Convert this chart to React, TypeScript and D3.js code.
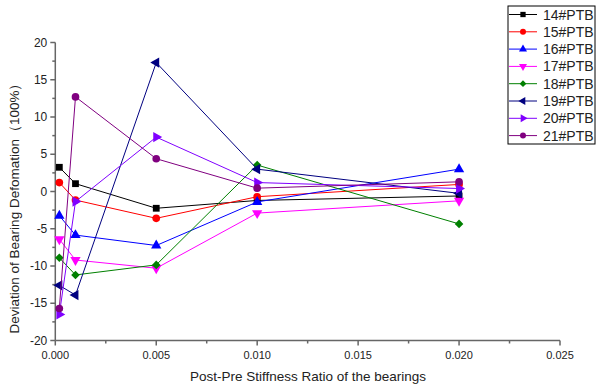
import React from "react";
import * as d3 from "d3";

// stiffness ratios on the x axis
const ratios = [0.0002, 0.001, 0.005, 0.01, 0.02];

const seriesNames = [
  "14#PTB",
  "15#PTB",
  "16#PTB",
  "17#PTB",
  "18#PTB",
  "19#PTB",
  "20#PTB",
  "21#PTB",
];

const s14 = [3.25, 1.05, -2.25, -1.2, -0.6];
const s15 = [1.2, -1.15, -3.6, -0.7, 0.95];
const s16 = [-3.25, -5.85, -7.25, -1.4, 3.0];
const s17 = [-6.4, -9.2, -10.3, -2.9, -1.25];
const s18 = [-8.9, -11.2, -9.85, 3.55, -4.35];
const s19 = [-12.6, -13.9, 17.3, 3.0, -0.25];
const s20 = [-16.5, -1.35, 7.3, 1.2, 0.4];
const s21 = [-15.7, 12.7, 4.4, 0.45, 1.3];
const seriesValues = [s14, s15, s16, s17, s18, s19, s20, s21];

const xTicks = [0, 0.005, 0.01, 0.015, 0.02, 0.025];
const yTicks = [-20, -15, -10, -5, 0, 5, 10, 15, 20];

const colors = [
  "#000000",
  "#ff0000",
  "#0000ff",
  "#ff00ff",
  "#008000",
  "#000080",
  "#8000ff",
  "#800080",
];

// symbol type + rotation for each series
const markers: [d3.SymbolType, number][] = [
  [d3.symbolSquare, 0],
  [d3.symbolCircle, 0],
  [d3.symbolTriangle, 0],
  [d3.symbolTriangle, 180],
  [d3.symbolSquare, 45],
  [d3.symbolTriangle, -90],
  [d3.symbolTriangle, 90],
  [d3.symbolCircle, 0],
];

const W = 596;
const H = 389;
const marginLeft = 55.3;
const plotRight = 560;
const plotTop = 42.5;
const plotBottom = 340.5;

const App: React.FC = () => {
  const x = d3.scaleLinear().domain([0, 0.025]).range([marginLeft, plotRight]);
  const y = d3.scaleLinear().domain([-20, 20]).range([plotBottom, plotTop]);

  const line = d3
    .line<number>()
    .x((_, i) => x(ratios[i]))
    .y((d) => y(d));

  const sym = (k: number, size: number) =>
    d3.symbol().type(markers[k][0]).size(k === 4 ? size * 0.8 : size)() as string;

  const axisColor = "#666";
  const textColor = "#222";
  const font = "Liberation Sans, Arial, sans-serif";

  const xMinor = d3.range(0.0025, 0.025, 0.005);
  const yMinor = d3.range(-17.5, 20, 5);

  return (
    <svg
      width={W}
      height={H}
      style={{ position: "absolute", left: 0, top: 0, background: "#fff" }}
    >
      {/* axes */}
      <g stroke={axisColor} strokeWidth={1.5} fill="none">
        <line x1={marginLeft} x2={marginLeft} y1={plotTop} y2={plotBottom} />
        <line x1={marginLeft} x2={plotRight} y1={plotBottom} y2={plotBottom} />
        {yTicks.map((t) => (
          <line key={"yt" + t} x1={marginLeft - 5} x2={marginLeft} y1={y(t)} y2={y(t)} />
        ))}
        {yMinor.map((t) => (
          <line key={"ym" + t} x1={marginLeft - 3} x2={marginLeft} y1={y(t)} y2={y(t)} />
        ))}
        {xTicks.map((t) => (
          <line key={"xt" + t} x1={x(t)} x2={x(t)} y1={plotBottom} y2={plotBottom + 5} />
        ))}
        {xMinor.map((t) => (
          <line key={"xm" + t} x1={x(t)} x2={x(t)} y1={plotBottom} y2={plotBottom + 3} />
        ))}
      </g>

      <g fontFamily={font} fill={textColor}>
        {yTicks.map((t) => (
          <text key={"yl" + t} x={marginLeft - 8} y={y(t)} dy="0.35em" textAnchor="end" fontSize={12}>
            {t}
          </text>
        ))}
        {xTicks.map((t) => (
          <text key={"xl" + t} x={x(t)} y={plotBottom + 18} textAnchor="middle" fontSize={11}>
            {d3.format(".3f")(t)}
          </text>
        ))}
        <text x={308} y={381} textAnchor="middle" fontSize={13.5}>
          Post-Pre Stiffness Ratio of the bearings
        </text>
        <text
          transform={`translate(19,205) rotate(-90)`}
          textAnchor="middle"
          fontSize={13.5}
        >
          Deviation of Bearing Defomation（100%）
        </text>
      </g>

      {/* series */}
      {seriesValues.map((vals, k) => (
        <g key={seriesNames[k]}>
          <path d={line(vals) as string} fill="none" stroke={colors[k]} strokeWidth={1} />
          {vals.map((v, i) => (
            <path
              key={i}
              d={sym(k, 46)}
              fill={colors[k]}
              transform={`translate(${x(ratios[i])},${y(v)}) rotate(${markers[k][1]})`}
            />
          ))}
        </g>
      ))}

      {/* legend */}
      <g>
        <rect x={508} y={6} width={87} height={138} fill="#fff" stroke="#000" strokeWidth={1} />
        {seriesNames.map((name, k) => {
          const ry = 14.5 + k * 17.3;
          return (
            <g key={"lg" + name}>
              <line x1={509} x2={537} y1={ry} y2={ry} stroke={colors[k]} strokeWidth={1} />
              <path
                d={sym(k, 28)}
                fill={colors[k]}
                transform={`translate(523,${ry}) rotate(${markers[k][1]})`}
              />
              <text x={543} y={ry} dy="0.36em" fontFamily={font} fontSize={14} fill={textColor}>
                {name}
              </text>
            </g>
          );
        })}
      </g>
    </svg>
  );
};

export default App;
